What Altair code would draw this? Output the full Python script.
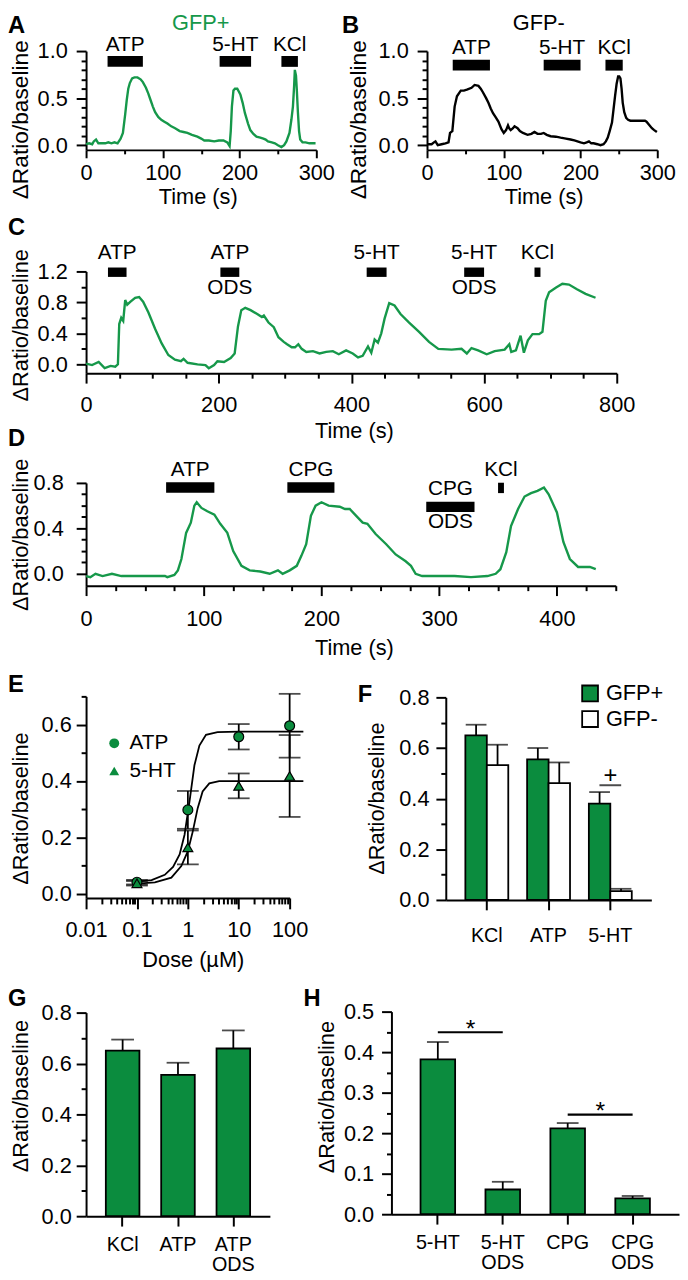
import altair as alt
import pandas as pd

W, H = 680, 1272
FONT = "Liberation Sans"
GREEN_LINE = "#16984a"
GREEN_FILL = "#0b8c3e"

# ---------------- Panel A : GFP+ trace ----------------
a_time = [0, 4, 8, 10, 13, 16, 20, 25, 29, 33, 37, 41, 45, 48, 51, 53, 55, 57, 60, 63, 67, 71, 74, 78,
          81, 84, 87, 90, 94, 98, 102, 106, 111, 116, 122, 127, 132, 138, 145, 150, 154, 160, 167, 173,
          179, 184, 187, 188.5, 190, 192, 194, 197, 201, 204, 207, 211, 214, 218, 222, 227, 231, 234,
          237, 242, 246, 250, 254.5, 258, 261, 265, 267.5, 269.5, 271, 272, 273.5, 274.5, 276, 277.5,
          279, 282, 286, 291, 295, 299]
a_ratio = [0.01, 0.02, 0.01, 0.04, 0.06, 0.02, 0.02, 0.02, 0.03, 0.02, 0.03, 0.02, 0.07, 0.13, 0.33,
           0.48, 0.60, 0.66, 0.71, 0.72, 0.72, 0.70, 0.67, 0.61, 0.55, 0.48, 0.41, 0.35, 0.30, 0.27,
           0.25, 0.23, 0.20, 0.18, 0.15, 0.14, 0.13, 0.11, 0.09, 0.07, 0.05, 0.05, 0.04, 0.05, 0.05,
           0.03, -0.01, 0.15, 0.41, 0.58, 0.60, 0.60, 0.54, 0.45, 0.34, 0.23, 0.16, 0.12, 0.09, 0.08,
           0.07, 0.06, 0.04, 0.03, 0.02, 0.00, -0.02, 0.00, 0.04, 0.13, 0.27, 0.41, 0.62, 0.80, 0.74,
           0.60, 0.35, 0.15, 0.06, 0.03, 0.03, 0.02, 0.02, 0.02]
a_stim = ["ATP", "5-HT", "KCl"]
a_stim_sub = ["", "", ""]
a_stim_on = [28, 174, 254.5]
a_stim_off = [74, 215, 276]
a_stim_level = [0.89, 0.89, 0.89]

# ---------------- Panel B : GFP- trace ----------------
b_time = [0, 6, 9, 11, 14, 19, 24, 28, 30, 33, 36, 39, 44, 48, 52, 58, 62, 67, 70, 73, 77, 80, 83, 86,
          90, 93, 97, 100, 103, 105.5, 107, 109, 112, 114, 118, 121, 125, 131, 136, 140, 144, 148.5,
          152, 156, 161, 168, 174, 181, 187, 192, 196, 200, 204.5, 208, 211, 214, 217, 222, 226, 230,
          233, 235.5, 238, 241, 243, 245, 247, 249, 250.5, 252, 253.5, 255, 257, 259.5, 262, 265, 270,
          275, 280, 284, 286, 289, 293, 296, 299.5]
b_ratio = [0.01, 0.01, 0.03, 0.04, 0.00, 0.01, 0.02, 0.03, 0.13, 0.15, 0.41, 0.52, 0.58, 0.58, 0.59,
           0.61, 0.64, 0.63, 0.60, 0.56, 0.50, 0.45, 0.39, 0.34, 0.29, 0.25, 0.17, 0.13, 0.16, 0.21,
           0.18, 0.16, 0.18, 0.20, 0.18, 0.15, 0.13, 0.11, 0.12, 0.14, 0.12, 0.12, 0.13, 0.11, 0.095,
           0.09, 0.08, 0.07, 0.06, 0.05, 0.04, 0.03, 0.02, 0.03, 0.04, 0.02, 0.02, 0.01, 0.00, 0.01,
           0.04, 0.08, 0.15, 0.24, 0.38, 0.52, 0.65, 0.73, 0.73, 0.71, 0.60, 0.45, 0.35, 0.29, 0.27,
           0.26, 0.26, 0.26, 0.26, 0.26, 0.25, 0.22, 0.18, 0.16, 0.14]
b_stim = ["ATP", "5-HT", "KCl"]
b_stim_sub = ["", "", ""]
b_stim_on = [33.5, 152, 232.5]
b_stim_off = [82, 200, 255]
b_stim_level = [0.85, 0.85, 0.85]

# ---------------- Panel C ----------------
c_time = [0, 9, 19, 28, 37, 44, 48, 50, 53, 56, 59, 62, 67, 74, 80, 86, 94, 104, 114, 124, 134, 143,
          147, 153, 168, 180, 185, 193, 198, 208, 218, 224, 229, 234, 240, 248, 258, 265, 268, 275,
          283, 290, 298, 303, 310, 315, 320, 325, 332, 342, 352, 362, 372, 381, 392, 402, 410, 417,
          425, 430, 435, 440, 445, 450, 457, 465, 474, 487, 502, 517, 531, 551, 566, 574, 581, 591,
          604, 616, 631, 638, 641, 648, 655, 660, 666, 673, 683, 688, 693, 698, 708, 718, 728, 740,
          753, 768]
c_ratio = [0.01, -0.01, 0.03, -0.05, -0.02, -0.03, 0.00, 0.52, 0.60, 0.56, 0.83, 0.77, 0.81, 0.86,
           0.87, 0.81, 0.67, 0.46, 0.27, 0.12, 0.06, 0.04, 0.07, 0.02, 0.00, -0.01, -0.05, -0.01, 0.04,
           0.03, 0.08, 0.14, 0.49, 0.70, 0.73, 0.70, 0.65, 0.61, 0.63, 0.54, 0.48, 0.35, 0.29, 0.26,
           0.22, 0.22, 0.26, 0.20, 0.16, 0.17, 0.14, 0.16, 0.17, 0.13, 0.18, 0.14, 0.09, 0.11, 0.23,
           0.15, 0.32, 0.28, 0.40, 0.59, 0.79, 0.76, 0.65, 0.54, 0.42, 0.29, 0.20, 0.19, 0.20, 0.14,
           0.21, 0.18, 0.13, 0.17, 0.19, 0.26, 0.16, 0.18, 0.37, 0.15, 0.31, 0.39, 0.39, 0.42, 0.82,
           0.93, 0.99, 1.04, 1.03, 0.97, 0.91, 0.86]
c_stim = ["ATP", "ATP", "5-HT", "5-HT", "KCl"]
c_stim_sub = ["", "ODS", "", "ODS", ""]
c_stim_on = [33, 202.5, 423, 570, 676]
c_stim_off = [61, 231, 453, 600, 685]
c_stim_level = [1.19, 1.19, 1.19, 1.19, 1.19]

# ---------------- Panel D ----------------
d_time = [0, 3.6, 8, 14, 22, 30, 44, 58, 67, 69, 75, 78, 81, 85, 89, 92, 94, 98, 103, 109, 114, 120,
          125, 132, 139, 148, 156, 163, 167, 173, 179, 183, 187, 191, 195, 200, 206, 215.5, 220, 224,
          229.5, 235, 239, 246, 255, 263, 271.5, 276, 280, 285.5, 299, 313, 327, 341, 348, 352, 357,
          361, 367, 372.5, 378, 383.5, 389, 393, 400, 405.5, 411, 418, 428, 433]
d_ratio = [-0.02, -0.03, 0.00, -0.02, 0.00, -0.02, -0.02, -0.02, -0.02, -0.03, -0.01, 0.03, 0.13,
           0.36, 0.45, 0.60, 0.63, 0.58, 0.55, 0.52, 0.44, 0.36, 0.20, 0.07, 0.03, 0.02, 0.00, 0.03,
           0.00, 0.03, 0.07, 0.16, 0.26, 0.51, 0.60, 0.63, 0.60, 0.59, 0.57, 0.57, 0.51, 0.45, 0.44,
           0.35, 0.26, 0.17, 0.11, 0.07, 0.00, -0.02, -0.02, -0.02, -0.03, -0.02, 0.00, 0.04, 0.19,
           0.42, 0.57, 0.68, 0.71, 0.73, 0.76, 0.70, 0.54, 0.28, 0.13, 0.06, 0.06, 0.04]
d_stim = ["ATP", "CPG", "CPG", "KCl"]
d_stim_sub = ["", "", "ODS", ""]
d_stim_on = [68, 171, 289, 350]
d_stim_off = [109, 211, 330, 355]
d_stim_level = [0.76, 0.76, 0.589, 0.756]

# ---------------- Panel E : dose response ----------------
e_dose = [0.1, 1, 10, 100]
e_atp_mean = [0.042, 0.298, 0.557, 0.596]
e_atp_sem = [0.008, 0.067, 0.045, 0.113]
e_ht_mean = [0.038, 0.165, 0.383, 0.418]
e_ht_sem = [0.008, 0.060, 0.044, 0.145]
e_atp_fit_dose = [0.1, 0.194, 0.352, 0.512, 0.689, 0.861, 1.077, 1.346, 1.685, 2.27, 3.83, 10, 100, 186]
e_atp_fit_val = [0.044, 0.049, 0.068, 0.096, 0.14, 0.21, 0.327, 0.456, 0.526, 0.564, 0.573, 0.575,
                 0.575, 0.575]
e_ht_fit_dose = [0.1, 0.225, 0.474, 0.743, 1.0, 1.25, 1.56, 1.95, 2.64, 4.12, 10, 100, 186]
e_ht_fit_val = [0.037, 0.041, 0.058, 0.099, 0.152, 0.222, 0.304, 0.363, 0.392, 0.40, 0.40, 0.40, 0.40]

# ---------------- Panel F ----------------
f_cat = ["KCl", "ATP", "5-HT"]
f_pos = [0.650, 0.555, 0.380]
f_pos_err = [0.042, 0.045, 0.046]
f_neg = [0.532, 0.461, 0.035]
f_neg_err = [0.081, 0.082, 0.009]
f_sig_cat = ["5-HT"]
f_sig_level = [0.453]
f_sig_mark = ["+"]

# ---------------- Panel G ----------------
g_cat = ["KCl", "ATP", "ATP ODS"]
g_val = [0.651, 0.555, 0.659]
g_err = [0.043, 0.048, 0.071]

# ---------------- Panel H ----------------
h_cat = ["5-HT", "5-HT ODS", "CPG", "CPG ODS"]
h_val = [0.382, 0.061, 0.212, 0.039]
h_err = [0.043, 0.019, 0.013, 0.006]
h_sig_from = ["5-HT", "CPG"]
h_sig_to = ["5-HT ODS", "CPG ODS"]
h_sig_level = [0.449, 0.246]
h_sig_mark = ["*", "*"]

LABEL_SIZE = 22
TITLE_SIZE = 22
STIM_SIZE = 21
AXIS_W = 2
BAR_STROKE = 1.8


# ================= helpers =================
def qscale(domain, rng, type_="linear"):
    return alt.Scale(type=type_, domain=domain, range=rng, nice=False, zero=False)


def left_axis(x_px, values, fmt, title, title_x, title_y, pad, title_size=TITLE_SIZE):
    return alt.Axis(orient="left", offset=-x_px, values=values, format=fmt, title=title,
                    titleX=title_x, titleY=title_y, titleAngle=270, titleAlign="center",
                    titleBaseline="middle", titleFontSize=title_size, tickSize=10,
                    labelPadding=pad, grid=False)


def bottom_axis(y_px, values, title, title_x, title_y, pad, tick=10, fmt="d"):
    return alt.Axis(orient="bottom", offset=y_px - H, values=values, format=fmt, title=title,
                    titleX=title_x, titleY=title_y, titleAngle=0, titleAlign="center",
                    titleBaseline="middle", tickSize=tick, labelPadding=pad, grid=False)


def band_axis(y_px, pad):
    return alt.Axis(orient="bottom", offset=y_px - H, title=None, labelAngle=0, tickSize=10,
                    labelPadding=pad, bandPosition=0.5, labelExpr="split(datum.label, ' ')",
                    labelFontSize=20, labelLineHeight=20, grid=False)


def minor_y(scale, x_px, values, tick=5):
    return alt.Chart(pd.DataFrame({"v": values})).mark_point(opacity=0).encode(
        y=alt.Y("v:Q", scale=scale,
                axis=alt.Axis(orient="left", offset=-x_px, values=values, labels=False,
                              domain=False, tickSize=tick, title=None, grid=False)))


def minor_x(scale, y_px, values, tick=5):
    return alt.Chart(pd.DataFrame({"v": values})).mark_point(opacity=0).encode(
        x=alt.X("v:Q", scale=scale,
                axis=alt.Axis(orient="bottom", offset=y_px - H, values=values, labels=False,
                              domain=False, tickSize=tick, title=None, grid=False)))


def trace_panel(time, ratio, color, stim, sub, on, off, level, xs, ys, xax, yax,
                bar_px, dy_top, dy_bot):
    line = alt.Chart(pd.DataFrame({"t": time, "r": ratio})).mark_line(
        color=color, strokeWidth=2.4).encode(
        x=alt.X("t:Q", scale=xs, axis=xax), y=alt.Y("r:Q", scale=ys, axis=yax))
    sdf = pd.DataFrame({"name": stim, "sub": sub, "on": on, "off": off, "level": level})
    bars = alt.Chart(sdf).mark_rule(color="black", strokeWidth=bar_px, strokeCap="butt").encode(
        x=alt.X("on:Q", scale=xs, axis=xax), x2="off:Q", y=alt.Y("level:Q", scale=ys, axis=yax))
    top = alt.Chart(sdf).transform_calculate(mid="(datum.on + datum.off) / 2").mark_text(
        fontSize=STIM_SIZE, baseline="middle", align="center", dy=dy_top, color="black").encode(
        x=alt.X("mid:Q", scale=xs, axis=xax), y=alt.Y("level:Q", scale=ys, axis=yax),
        text="name:N")
    layers = [line, bars, top]
    if any(s != "" for s in sub):
        bot = alt.Chart(sdf).transform_filter("datum.sub != ''").transform_calculate(
            mid="(datum.on + datum.off) / 2").mark_text(
            fontSize=STIM_SIZE, baseline="middle", align="center", dy=dy_bot, color="black").encode(
            x=alt.X("mid:Q", scale=xs, axis=xax), y=alt.Y("level:Q", scale=ys, axis=yax),
            text="sub:N")
        layers.append(bot)
    return alt.layer(*layers)


def note(text, x, y, size=24, weight="bold", color="black", align="left"):
    return alt.Chart(pd.DataFrame({"s": [text]})).mark_text(
        x=x, y=y, fontSize=size, fontWeight=weight, color=color, align=align,
        baseline="alphabetic").encode(text="s:N")


layers = []

# ---------- A ----------
xsA = qscale([0, 300], [79, 312])
ysA = qscale([-0.05, 1.0], [136, 36])
axA_x = bottom_axis(136, [0, 100, 200, 300], "Time (s)", 192, 47, 5, tick=8)
axA_y = left_axis(79, [0, 0.5, 1.0], ".1f", "ΔRatio/baseline", -66, 105, 9, 23)
layers.append(trace_panel(a_time, a_ratio, GREEN_LINE, a_stim, a_stim_sub, a_stim_on, a_stim_off,
                          a_stim_level, xsA, ysA, axA_x, axA_y, 11, -17, 16))
layers.append(minor_y(ysA, 79, [0.1, 0.2, 0.3, 0.4, 0.6, 0.7, 0.8, 0.9]))
layers.append(minor_x(xsA, 136, [50, 150, 250], 4))

# ---------- B ----------
xsB = qscale([0, 300], [424, 657])
ysB = qscale([-0.05, 1.0], [136, 36])
axB_x = bottom_axis(136, [0, 100, 200, 300], "Time (s)", 542, 47, 5, tick=8)
axB_y = left_axis(424, [0, 0.5, 1.0], ".1f", "ΔRatio/baseline", -69, 105, 9, 23)
layers.append(trace_panel(b_time, b_ratio, "black", b_stim, b_stim_sub, b_stim_on, b_stim_off,
                          b_stim_level, xsB, ysB, axB_x, axB_y, 11, -17, 16))
layers.append(minor_y(ysB, 424, [0.1, 0.2, 0.3, 0.4, 0.6, 0.7, 0.8, 0.9]))
layers.append(minor_x(xsB, 136, [50, 150, 250], 4))

# ---------- C ----------
xsC = qscale([0, 800], [79, 616])
ysC = qscale([-0.115, 1.2], [362, 259])
axC_x = bottom_axis(362, [0, 200, 400, 600, 800], "Time (s)", 350, 58, 12)
axC_y = left_axis(79, [0, 0.4, 0.8, 1.2], ".1f", "ΔRatio/baseline", -66, 313, 9)
layers.append(trace_panel(c_time, c_ratio, GREEN_LINE, c_stim, c_stim_sub, c_stim_on, c_stim_off,
                          c_stim_level, xsC, ysC, axC_x, axC_y, 9.5, -19, 16))
layers.append(minor_y(ysC, 79, [0.2, 0.6, 1.0]))
layers.append(minor_x(xsC, 362, [50, 100, 150, 250, 300, 350, 450, 500, 550, 650, 700, 750]))

# ---------- D ----------
xsD = qscale([0, 450], [79, 615])
ysD = qscale([-0.105, 0.8], [577, 473])
axD_x = bottom_axis(577, [0, 100, 200, 300, 400], "Time (s)", 350, 63, 13)
axD_y = left_axis(79, [0, 0.4, 0.8], ".1f", "ΔRatio/baseline", -66, 525, 13)
layers.append(trace_panel(d_time, d_ratio, GREEN_LINE, d_stim, d_stim_sub, d_stim_on, d_stim_off,
                          d_stim_level, xsD, ysD, axD_x, axD_y, 10.5, -18, 15.5))
layers.append(minor_y(ysD, 79, [0.1, 0.2, 0.3, 0.5, 0.6, 0.7]))
layers.append(minor_x(xsD, 577, [25, 50, 75, 125, 150, 175, 225, 250, 275, 325, 350, 375, 425, 450]))

# ---------- E ----------
xsE = qscale([0.01, 100], [79, 285], "log")
ysE = qscale([-0.014, 0.7], [893, 689])
axE_x = alt.Axis(orient="bottom", offset=893 - H, values=[0.01, 0.1, 1, 10, 100], format="~g",
                 title="Dose (µM)", titleX=187, titleY=62, titleAngle=0, titleAlign="center",
                 titleBaseline="middle", tickSize=11, labelPadding=11, grid=False)
axE_y = left_axis(79, [0, 0.2, 0.4, 0.6], ".1f", "ΔRatio/baseline", -66, 802, 5)

fit_df = pd.DataFrame({
    "agent": ["ATP"] * len(e_atp_fit_dose) + ["5-HT"] * len(e_ht_fit_dose),
    "dose": e_atp_fit_dose + e_ht_fit_dose,
    "val": e_atp_fit_val + e_ht_fit_val})
pts_df = pd.DataFrame({
    "agent": ["ATP"] * len(e_dose) + ["5-HT"] * len(e_dose),
    "dose": e_dose + e_dose,
    "mean": e_atp_mean + e_ht_mean,
    "sem": e_atp_sem + e_ht_sem})

e_curve = alt.Chart(fit_df).mark_line(color="black", strokeWidth=1.8).encode(
    x=alt.X("dose:Q", scale=xsE, axis=axE_x), y=alt.Y("val:Q", scale=ysE, axis=axE_y),
    detail="agent:N")
e_base = alt.Chart(pts_df).transform_calculate(
    lo="datum.mean - datum.sem", hi="datum.mean + datum.sem")
e_err = e_base.mark_rule(color="black", strokeWidth=1.8).encode(
    x=alt.X("dose:Q", scale=xsE, axis=axE_x), y=alt.Y("lo:Q", scale=ysE, axis=axE_y), y2="hi:Q")
e_cap_lo = e_base.mark_tick(orient="horizontal", size=22, thickness=1.8, color="black").encode(
    x=alt.X("dose:Q", scale=xsE, axis=axE_x), y=alt.Y("lo:Q", scale=ysE, axis=axE_y))
e_cap_hi = e_base.mark_tick(orient="horizontal", size=22, thickness=1.8, color="black").encode(
    x=alt.X("dose:Q", scale=xsE, axis=axE_x), y=alt.Y("hi:Q", scale=ysE, axis=axE_y))
e_pts = alt.Chart(pts_df).mark_point(filled=True, fill=GREEN_FILL, stroke="black", strokeWidth=1.2,
                                     opacity=1, size=100).encode(
    x=alt.X("dose:Q", scale=xsE, axis=axE_x), y=alt.Y("mean:Q", scale=ysE, axis=axE_y),
    shape=alt.Shape("agent:N", scale=alt.Scale(domain=["ATP", "5-HT"], range=["circle", "triangle-up"]),
                    legend=alt.Legend(orient="none", legendX=97, legendY=726, title=None,
                                      symbolFillColor=GREEN_FILL, symbolStrokeColor="black",
                                      symbolStrokeWidth=1.2, symbolSize=100, labelFontSize=21,
                                      labelOffset=5, rowPadding=6, padding=0)))
layers.append(alt.layer(e_curve, e_err, e_cap_lo, e_cap_hi, e_pts))
layers.append(minor_y(ysE, 79, [0.1, 0.3, 0.5, 0.7]))
e_minor = [m * d for d in [0.01, 0.1, 1, 10] for m in range(2, 10)]
layers.append(minor_x(xsE, 893, e_minor, 6))

# ---------- F ----------
xsF = alt.Scale(domain=f_cat, range=[443, 651], paddingInner=0.305, paddingOuter=0.317)
ysF = qscale([0, 0.8], [895, 690])
axF_x = band_axis(895, 16)
axF_y = left_axis(443, [0, 0.2, 0.4, 0.6, 0.8], ".1f", "ΔRatio/baseline", -70, 792, 7)
f_df = pd.DataFrame({
    "cat": f_cat + f_cat,
    "grp": ["GFP+"] * len(f_cat) + ["GFP-"] * len(f_cat),
    "val": f_pos + f_neg,
    "err": f_pos_err + f_neg_err})
xoffF = alt.XOffset("grp:N", sort=["GFP+", "GFP-"],
                    scale=alt.Scale(domain=["GFP+", "GFP-"], paddingInner=0, paddingOuter=0))
f_bars = alt.Chart(f_df).mark_bar(stroke="black", strokeWidth=BAR_STROKE).encode(
    x=alt.X("cat:N", sort=f_cat, scale=xsF, axis=axF_x), xOffset=xoffF,
    y=alt.Y("val:Q", scale=ysF, axis=axF_y),
    fill=alt.Fill("grp:N", scale=alt.Scale(domain=["GFP+", "GFP-"], range=[GREEN_FILL, "white"]),
                  legend=alt.Legend(orient="none", legendX=578, legendY=675, title=None,
                                    symbolType="square", symbolSize=256, symbolStrokeColor="black",
                                    symbolStrokeWidth=1.8, labelFontSize=22, labelOffset=5,
                                    rowPadding=2, padding=0)))
f_base = alt.Chart(f_df).transform_calculate(top="datum.val + datum.err")
f_err = f_base.mark_rule(color="black", strokeWidth=1.8).encode(
    x=alt.X("cat:N", sort=f_cat, scale=xsF, axis=axF_x), xOffset=xoffF,
    y=alt.Y("val:Q", scale=ysF, axis=axF_y), y2="top:Q")
f_cap = f_base.mark_tick(orient="horizontal", size=21, thickness=1.8, color="black").encode(
    x=alt.X("cat:N", sort=f_cat, scale=xsF, axis=axF_x), xOffset=xoffF,
    y=alt.Y("top:Q", scale=ysF, axis=axF_y))
fs_df = pd.DataFrame({"cat": f_sig_cat, "level": f_sig_level, "mark": f_sig_mark})
f_sig = alt.Chart(fs_df).mark_tick(orient="horizontal", size=22, thickness=2, color="black").encode(
    x=alt.X("cat:N", sort=f_cat, scale=xsF, axis=axF_x), y=alt.Y("level:Q", scale=ysF, axis=axF_y))
f_sig_t = alt.Chart(fs_df).mark_text(fontSize=24, baseline="alphabetic", align="center", dy=-2,
                                     color="black").encode(
    x=alt.X("cat:N", sort=f_cat, scale=xsF, axis=axF_x), y=alt.Y("level:Q", scale=ysF, axis=axF_y),
    text="mark:N")
layers.append(alt.layer(f_err, f_cap, f_bars, f_sig, f_sig_t))
layers.append(minor_y(ysF, 443, [0.1, 0.3, 0.5, 0.7]))

# ---------- G ----------
xsG = alt.Scale(domain=g_cat, range=[79, 265], paddingInner=0.393, paddingOuter=0.357)
ysG = qscale([0, 0.8], [1215, 1009])
axG_x = band_axis(1215, 9)
axG_y = left_axis(79, [0, 0.2, 0.4, 0.6, 0.8], ".1f", "ΔRatio/baseline", -66, 1093, 5)
g_df = pd.DataFrame({"cat": g_cat, "val": g_val, "err": g_err})
g_base = alt.Chart(g_df).transform_calculate(top="datum.val + datum.err")
g_err_l = g_base.mark_rule(color="black", strokeWidth=1.8).encode(
    x=alt.X("cat:N", sort=g_cat, scale=xsG, axis=axG_x), y=alt.Y("val:Q", scale=ysG, axis=axG_y),
    y2="top:Q")
g_cap = g_base.mark_tick(orient="horizontal", size=23, thickness=1.8, color="black").encode(
    x=alt.X("cat:N", sort=g_cat, scale=xsG, axis=axG_x), y=alt.Y("top:Q", scale=ysG, axis=axG_y))
g_bars = alt.Chart(g_df).mark_bar(fill=GREEN_FILL, stroke="black", strokeWidth=BAR_STROKE).encode(
    x=alt.X("cat:N", sort=g_cat, scale=xsG, axis=axG_x), y=alt.Y("val:Q", scale=ysG, axis=axG_y))
layers.append(alt.layer(g_err_l, g_cap, g_bars))
layers.append(minor_y(ysG, 79, [0.1, 0.3, 0.5, 0.7]))

# ---------- H ----------
xsH = alt.Scale(domain=h_cat, range=[388, 679], paddingInner=0.467, paddingOuter=0.448)
ysH = qscale([0, 0.5], [1213, 1008])
axH_x = band_axis(1213, 9)
axH_y = left_axis(388, [0, 0.1, 0.2, 0.3, 0.4, 0.5], ".1f", "ΔRatio/baseline", -66, 1094, 8)
h_df = pd.DataFrame({"cat": h_cat, "val": h_val, "err": h_err})
h_base = alt.Chart(h_df).transform_calculate(top="datum.val + datum.err")
h_err_l = h_base.mark_rule(color="black", strokeWidth=1.8).encode(
    x=alt.X("cat:N", sort=h_cat, scale=xsH, axis=axH_x), y=alt.Y("val:Q", scale=ysH, axis=axH_y),
    y2="top:Q")
h_cap = h_base.mark_tick(orient="horizontal", size=22, thickness=1.8, color="black").encode(
    x=alt.X("cat:N", sort=h_cat, scale=xsH, axis=axH_x), y=alt.Y("top:Q", scale=ysH, axis=axH_y))
h_bars = alt.Chart(h_df).mark_bar(fill=GREEN_FILL, stroke="black", strokeWidth=BAR_STROKE).encode(
    x=alt.X("cat:N", sort=h_cat, scale=xsH, axis=axH_x), y=alt.Y("val:Q", scale=ysH, axis=axH_y))
hs_df = pd.DataFrame({"a": h_sig_from, "b": h_sig_to, "level": h_sig_level, "mark": h_sig_mark})
h_sig = alt.Chart(hs_df).mark_rule(color="black", strokeWidth=2.2).encode(
    x=alt.X("a:N", sort=h_cat, scale=xsH, axis=axH_x), x2="b:N",
    y=alt.Y("level:Q", scale=ysH, axis=axH_y))
h_sig_t = alt.Chart(hs_df).mark_text(fontSize=25, baseline="alphabetic", align="center", dx=33, dy=5,
                                     color="black").encode(
    x=alt.X("a:N", sort=h_cat, scale=xsH, axis=axH_x), y=alt.Y("level:Q", scale=ysH, axis=axH_y),
    text="mark:N")
layers.append(alt.layer(h_err_l, h_cap, h_bars, h_sig, h_sig_t))
layers.append(minor_y(ysH, 388, [0.05, 0.15, 0.25, 0.35, 0.45]))

# ---------- panel letters and titles ----------
layers.append(note("A", 0, 18))
layers.append(note("B", 338, 18))
layers.append(note("C", 0, 222))
layers.append(note("D", 0, 436))
layers.append(note("E", 0, 685))
layers.append(note("F", 354, 695))
layers.append(note("G", 0, 1002))
layers.append(note("H", 299, 1002))
layers.append(note("GFP+", 195, 15, size=22, weight="normal", color=GREEN_LINE, align="center"))
layers.append(note("GFP-", 537, 15, size=22, weight="normal", color="black", align="center"))

chart = alt.layer(*layers).resolve_scale(
    x="independent", y="independent", shape="independent", fill="independent"
).resolve_axis(x="independent", y="independent").properties(
    width=W, height=H, autosize=alt.AutoSizeParams(type="none"), padding=0
).configure(font=FONT).configure_view(stroke=None).configure_axis(
    labelFont=FONT, titleFont=FONT, labelFontSize=LABEL_SIZE, titleFontSize=TITLE_SIZE,
    titleFontWeight="normal", labelColor="black", titleColor="black", domainColor="black",
    tickColor="black", domainWidth=AXIS_W, tickWidth=AXIS_W, labelFlush=False, labelOverlap=False,
    grid=False
).configure_legend(labelFont=FONT, labelColor="black")

chart.save("out.html", embed_options={"renderer": "svg", "actions": False})
